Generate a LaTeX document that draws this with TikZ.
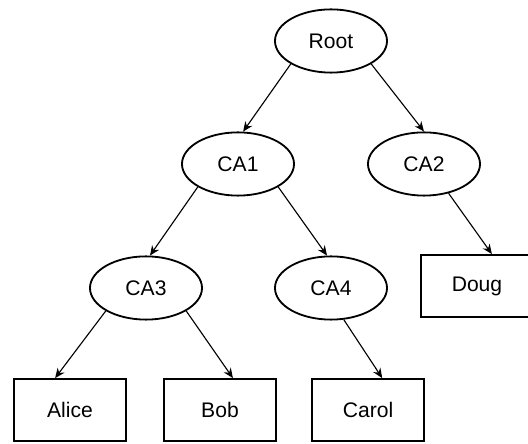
\documentclass[tikz,border=0pt]{standalone}
\usepackage{fontspec}
\setmainfont{Liberation Sans}
\usetikzlibrary{shapes.geometric,arrows.meta}

\begin{document}
\begin{tikzpicture}[x=0.025cm, y=-0.025cm,
    ca/.style={draw, ellipse, line width=1.3pt, minimum width=2.8cm, minimum height=1.58cm, inner sep=0pt, font=\fontsize{15}{18}\selectfont},
    leaf/.style={draw, rectangle, line width=1.3pt, minimum width=2.8cm, minimum height=1.55cm, inner sep=0pt, font=\fontsize{15}{18}\selectfont},
    arr/.style={-{Stealth[length=7pt, width=6pt]}, line width=0.8pt}]

    \useasboundingbox (0, 0) rectangle (528, 444);

    \node[ca] (root) at (331, 41) {Root};
    \node[ca] (ca1) at (238, 164) {CA1};
    \node[ca] (ca2) at (424, 164) {CA2};
    \node[ca] (ca3) at (146, 288) {CA3};
    \node[ca] (ca4) at (331, 288) {CA4};

    \node[leaf] (alice) at (70, 410) {Alice};
    \node[leaf] (bob) at (220, 410) {Bob};
    \node[leaf] (carol) at (368, 410) {Carol};
    \node[leaf] (doug) at (477, 286) {Doug};

    \foreach \A/\B in {root.south west/ca1.81, root.south east/ca2.north, ca1.south west/ca3.83, ca1.south east/ca4.97, ca2.-50/doug.65, ca3.south west/alice.115, ca3.south east/bob.68, ca4.-68/carol.66}
        \draw[arr] (\A) -- (\B);

\end{tikzpicture}
\end{document}
